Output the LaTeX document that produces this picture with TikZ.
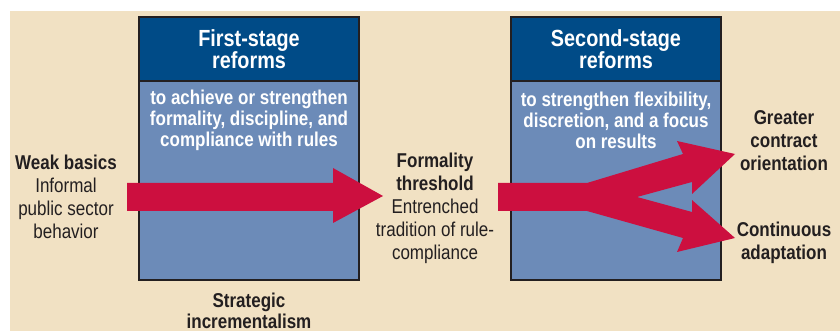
\documentclass[tikz,border=0pt]{standalone}
\usepackage{fontspec}
\setmainfont{Liberation Sans}[FakeStretch=0.85]
\usetikzlibrary{positioning}
\definecolor{sand}{RGB}{241,225,195}
\definecolor{navy}{RGB}{0,75,135}
\definecolor{steel}{RGB}{108,139,184}
\definecolor{crimson}{RGB}{204,15,63}
\definecolor{ink}{RGB}{35,31,32}
\tikzstyle{headbox} = [rectangle, fill=navy, draw=ink, line width=0.9pt, minimum height=48pt, inner sep=0pt, text=white, align=center, font=\bfseries\fontsize{17.5}{17}\selectfont]
\tikzstyle{bodybox} = [rectangle, fill=steel, draw=ink, line width=0.9pt, minimum height=149.25pt, inner sep=0pt]
\tikzstyle{bodytext} = [align=center, inner sep=0pt, text=white, font=\bfseries\fontsize{15}{15.75}\selectfont]
\tikzstyle{sidetext} = [align=center, inner sep=0pt, text=ink, font=\fontsize{15}{17.25}\selectfont]
\tikzstyle{fatarrow} = [fill=crimson, draw=none]

\begin{document}
\begin{tikzpicture}[x=0.75pt,y=-0.75pt]
    \useasboundingbox (0,0) rectangle (840,331);
    \fill[sand] (10,11) rectangle (840,331);

    \node at (249,180.5) [bodybox,minimum width=165pt] (body1) {};
    \node at (249,49) [headbox,minimum width=165pt] (head1) {First-stage\\reforms};
    \node at (616,180.5) [bodybox,minimum width=157.5pt] (body2) {};
    \node at (616,49) [headbox,minimum width=157.5pt] (head2) {Second-stage\\reforms};

    \node at (249,120) [bodytext] (goal1) {to achieve or strengthen\\formality, discipline, and\\compliance with rules};
    \node at (616,120) [bodytext] (goal2) {to strengthen flexibility,\\discretion, and a focus\\on results};

    \node at (66,197) [sidetext] (weak) {\textbf{Weak basics}\\Informal\\public sector\\behavior};
    \node at (435,208.5) [sidetext] (thresh) {\textbf{Formality}\\\textbf{threshold}\\Entrenched\\tradition of rule-\\compliance};
    \node at (784,141) [sidetext,font=\bfseries\fontsize{15}{17.25}\selectfont] (contract) {Greater\\contract\\orientation};
    \node at (784,243) [sidetext,font=\bfseries\fontsize{15}{17.25}\selectfont] (adapt) {Continuous\\adaptation};
    \node at (249,311) [sidetext,font=\bfseries\fontsize{15}{15.75}\selectfont] (increm) {Strategic\\incrementalism};

    % first stage arrow
    \fill[fatarrow] (127,183) -- (333,183) -- (333,168) -- (383,196)
        -- (333,223) -- (333,211) -- (127,211) -- cycle;
    % second stage arrow, split in two
    \fill[fatarrow] (498,183) -- (587,183) -- (683,154) -- (677,141) -- (735,154)
        -- (692,194) -- (692,182) -- (637,197) -- (692,212) -- (692,200)
        -- (735,238) -- (677,252) -- (683,238) -- (587,211) -- (498,211) -- cycle;
\end{tikzpicture}
\end{document}
